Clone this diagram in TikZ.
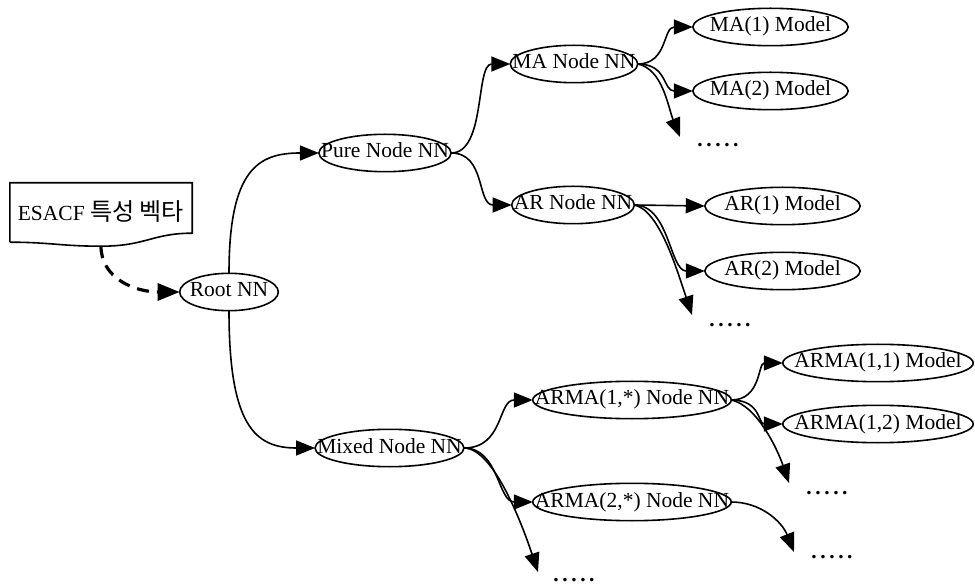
\documentclass[tikz,border=0pt]{standalone}
\usepackage{fontspec}
\setmainfont{Liberation Serif}
\newfontfamily\kr[Scale=1.12]{Noto Sans CJK KR}
\usetikzlibrary{arrows.meta,calc}

\begin{document}
\begin{tikzpicture}[x=1pt,y=-1pt,font=\fontsize{21.5}{25}\selectfont,
  oval/.style={text height=15pt,text depth=5pt,inner ysep=8.5pt,inner xsep=#1},
  oval/.default=2pt,
  model/.style={oval=0pt,minimum width=155pt},
  armamodel/.style={oval=0pt,minimum width=190pt},
  link/.style={line width=1.6pt,-{Triangle[length=19pt,width=15pt]}},
  dots/.style={inner sep=0pt,font=\fontsize{21.5}{25}\selectfont\bfseries}]
\useasboundingbox (0,0) rectangle (975,585);

% input vector
\node (esacf) [minimum width=182pt,minimum height=57pt,inner sep=0pt] at (101,211.5) {ESACF {\kr 특성 벡타}};
\draw[line width=1.6pt] ([yshift=-2pt]esacf.south west) -- (esacf.north west) -- (esacf.north east)
  -- ([yshift=7pt]esacf.south east) .. controls +(-40,0) and +(45,0) .. ([yshift=-6pt]esacf.south)
  .. controls +(-40,0) and +(40,0) .. ([yshift=-2pt]esacf.south west);

% network nodes
\node (root) [oval=10pt] at (229,292) {Root NN};
\node (pure) [oval] at (385,153) {Pure Node NN};
\node (mixed) [oval] at (389.5,448) {Mixed Node NN};
\node (ma) [oval] at (574,64) {MA Node NN};
\node (ar) [oval] at (573,205) {AR Node NN};
\node (arma1) [oval] at (632,400) {ARMA(1,*) Node NN};
\node (arma2) [oval] at (632,502) {ARMA(2,*) Node NN};

% models
\node (ma1) [model] at (770.5,27) {MA(1) Model};
\node (ma2) [model] at (770.5,91) {MA(2) Model};
\node (ar1) [model] at (782.5,206) {AR(1) Model};
\node (ar2) [model] at (782.5,271) {AR(2) Model};
\node (arma11) [armamodel] at (878,363) {ARMA(1,1) Model};
\node (arma12) [armamodel] at (878,424) {ARMA(1,2) Model};

\foreach \nd in {root,pure,mixed,ma,ar,arma1,arma2,ma1,ma2,ar1,ar2,arma11,arma12}
  \draw[line width=1.6pt] let \p1=(\nd.north east), \p2=(\nd.center) in
    (\p2) ellipse [x radius=\x1-\x2, y radius=\y1-\y2];

% dots
\node (madots) [dots] at (718,145) {.\,.\,.\,.\,.};
\node (ardots) [dots] at (730,325) {.\,.\,.\,.\,.};
\node (arma1dots) [dots] at (827,493) {.\,.\,.\,.\,.};
\node (arma2dots) [dots] at (832,557) {.\,.\,.\,.\,.};
\node (mixeddots) [dots] at (574,580) {.\,.\,.\,.\,.};
\coordinate (tipma) at (680,137);
\coordinate (tipar) at (692,315);
\coordinate (tiparma1) at (789,483);
\coordinate (tiparma2) at (794,552);
\coordinate (tipmixed) at (538,572);

% links
\draw[link,line width=3.2pt,dash pattern=on 12pt off 8pt,-{Triangle[length=22pt,width=17pt]}] ([yshift=-6pt]esacf.south) .. controls +(0,32) and +(-45,0) .. (root.west);
\draw[link] (root.north) .. controls +(0,-105) and +(-60,0) .. (pure.west);
\draw[link] (root.south) .. controls +(0,115) and +(-60,0) .. (mixed.west);

\draw[link] (pure.east) .. controls +(35,0) and +(-35,0) .. (ma.west);
\draw[link] (pure.east) .. controls +(35,0) and +(-35,0) .. (ar.west);
\draw[link] (ma.east) .. controls +(30,0) and +(-30,0) .. (ma1.west);
\draw[link] (ma.east) .. controls +(30,0) and +(-30,0) .. (ma2.west);
\draw[link] (ma.east) .. controls +(25,5) and +(-12,-30) .. (tipma);
\draw[link] (ar.east) -- (ar1.west);
\draw[link] (ar.east) .. controls +(35,0) and +(-35,0) .. (ar2.west);
\draw[link] (ar.east) .. controls +(25,5) and +(-15,-45) .. (tipar);

\draw[link] (mixed.east) .. controls +(40,0) and +(-35,0) .. (arma1.west);
\draw[link] (mixed.east) .. controls +(35,0) and +(-35,0) .. (arma2.west);
\draw[link] (mixed.east) .. controls +(30,0) and +(-15,-45) .. (tipmixed);
\draw[link] (arma1.east) .. controls +(30,0) and +(-25,0) .. (arma11.west);
\draw[link] (arma1.east) .. controls +(30,0) and +(-25,0) .. (arma12.west);
\draw[link] (arma1.east) .. controls +(25,5) and +(-12,-35) .. (tiparma1);
\draw[link] (arma2.east) .. controls +(30,0) and +(-12,-30) .. (tiparma2);
\end{tikzpicture}
\end{document}
